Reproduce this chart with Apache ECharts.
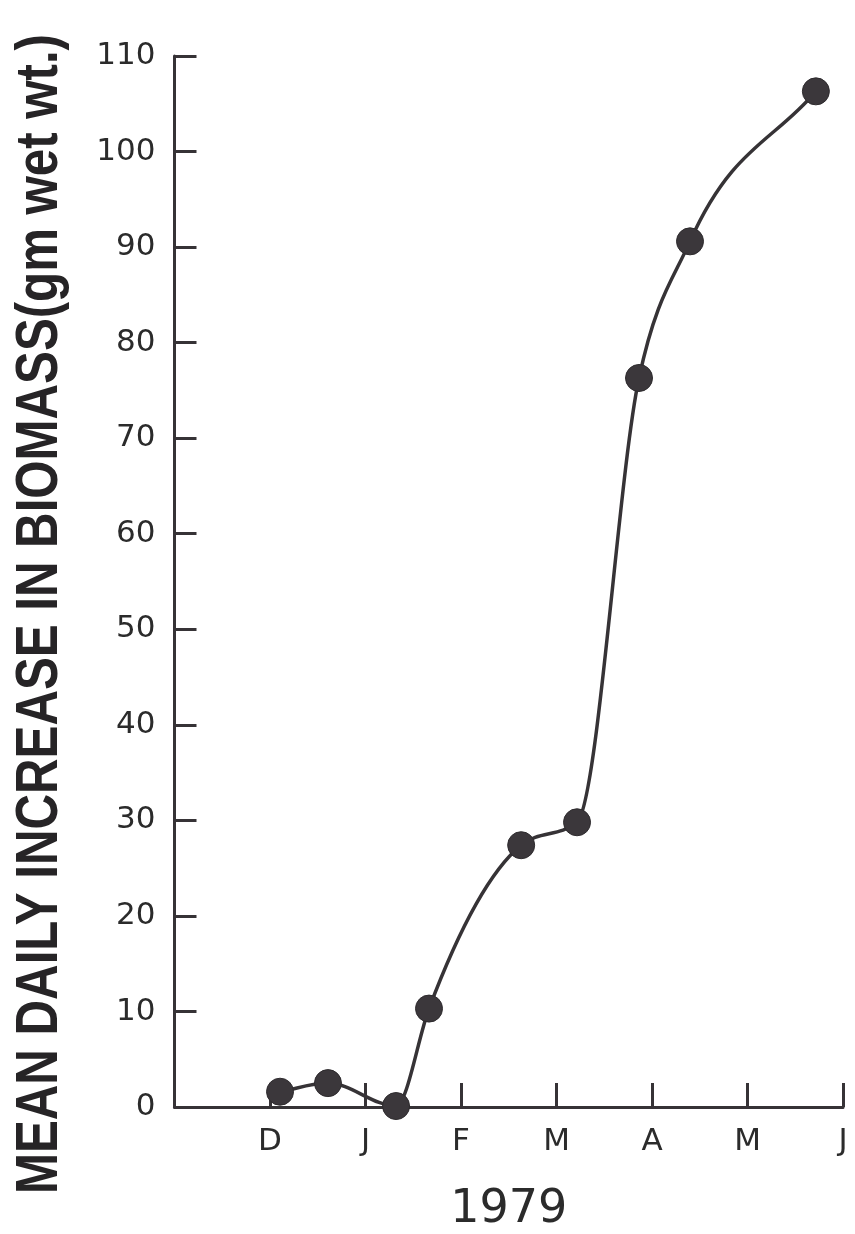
<!DOCTYPE html>
<html>
<head>
<meta charset="utf-8">
<script src="https://cdn.jsdelivr.net/npm/echarts@6/dist/echarts.min.js"></script>
<style>
  html, body { margin: 0; padding: 0; background: #ffffff; }
  #chart { width: 855px; height: 1234px; }
</style>
</head>
<body>
<div id="chart"></div>
<script>
// Sampling dates as months since 1 Nov 1978 (1 = Dec, 2 = Jan, ...)
var sampleMonth = [1.105, 1.607, 2.32, 2.665, 3.63, 4.215, 4.864, 5.398, 6.716];
// Mean daily increase in biomass, gm wet wt.
var biomassGain = [1.6, 2.5, 0.1, 10.3, 27.4, 29.8, 76.3, 90.6, 106.3];
// Month initials at the start of each month tick
var monthLabels = ['', 'D', 'J', 'F', 'M', 'A', 'M', 'J'];
var yTicks = [0, 10, 20, 30, 40, 50, 60, 70, 80, 90, 100, 110];

var ink = '#363336';
var fontFam = '"DejaVu Sans", "Liberation Sans", sans-serif';

var points = sampleMonth.map(function (m, i) { return [m, biomassGain[i]]; });

// Monotone cubic (in x) through pixel points, emitted as cubic Beziers.
// Interior tangents use the Steffen-style limited slope; the two ends use the secant.
function curvePath(px) {
  var n = px.length, h = [], s = [], m = [];
  for (var i = 0; i < n - 1; i++) {
    h.push(px[i + 1][0] - px[i][0]);
    s.push((px[i + 1][1] - px[i][1]) / h[i]);
  }
  m[0] = s[0];
  m[n - 1] = s[n - 2];
  for (var j = 1; j < n - 1; j++) {
    var s0 = s[j - 1], s1 = s[j];
    var p = (s0 * h[j] + s1 * h[j - 1]) / (h[j - 1] + h[j]);
    m[j] = (Math.sign(s0) + Math.sign(s1)) *
      Math.min(Math.abs(s0), Math.abs(s1), 0.5 * Math.abs(p)) || 0;
  }
  var d = 'M' + px[0][0] + ' ' + px[0][1];
  for (var k = 0; k < n - 1; k++) {
    var dx = h[k] / 3;
    d += ' C' + (px[k][0] + dx) + ' ' + (px[k][1] + m[k] * dx) + ' ' +
      (px[k + 1][0] - dx) + ' ' + (px[k + 1][1] - m[k + 1] * dx) + ' ' +
      px[k + 1][0] + ' ' + px[k + 1][1];
  }
  return d;
}

var chart = echarts.init(document.getElementById('chart'), null, { renderer: 'canvas' });
chart.setOption({
  backgroundColor: '#ffffff',
  animation: false,
  grid: {
    left: 174.5, right: 12, top: 56, bottom: 127,
    containLabel: false,
    outerBoundsMode: 'none'
  },
  xAxis: {
    type: 'value',
    min: 0,
    max: monthLabels.length - 1,
    interval: 1,
    axisLine: { show: true, lineStyle: { color: ink, width: 3 } },
    axisTick: { show: true, inside: true, length: 24, lineStyle: { color: ink, width: 3 } },
    splitLine: { show: false },
    axisLabel: {
      margin: 19,
      color: '#2b2b2b',
      fontFamily: fontFam,
      fontSize: 31,
      formatter: function (v) { return monthLabels[Math.round(v)] || ''; }
    },
    name: '1979',
    nameLocation: 'middle',
    nameGap: 80,
    nameTextStyle: { color: '#2b2b2b', fontFamily: fontFam, fontSize: 46 }
  },
  yAxis: {
    type: 'value',
    min: yTicks[0],
    max: yTicks[yTicks.length - 1],
    interval: 10,
    axisLine: { show: true, lineStyle: { color: ink, width: 3 } },
    axisTick: { show: true, inside: true, length: 22, lineStyle: { color: ink, width: 3 } },
    splitLine: { show: false },
    axisLabel: {
      margin: 19,
      color: '#2b2b2b',
      fontFamily: fontFam,
      fontSize: 31
    }
  },
  graphic: [{
    type: 'text',
    x: 40,
    y: 614,
    rotation: Math.PI / 2,
    scaleX: 0.82,
    style: {
      text: 'MEAN DAILY INCREASE IN BIOMASS(gm wet wt.)',
      fill: '#262426',
      font: 'bold 60px "Liberation Sans", Arial, sans-serif',
      textAlign: 'center',
      textVerticalAlign: 'middle'
    }
  }],
  series: [{
    type: 'custom',
    data: [0],
    z: 2,
    renderItem: function (params, api) {
      var px = points.map(function (pt) { return api.coord(pt); });
      return {
        type: 'path',
        shape: { pathData: curvePath(px) },
        style: { fill: 'none', stroke: ink, lineWidth: 3.5 }
      };
    }
  }, {
    type: 'scatter',
    data: points,
    symbol: 'circle',
    symbolSize: 27,
    itemStyle: { color: '#3b373b', borderColor: '#2e2b2e', borderWidth: 1, opacity: 1 },
    z: 3
  }]
});
</script>
</body>
</html>
